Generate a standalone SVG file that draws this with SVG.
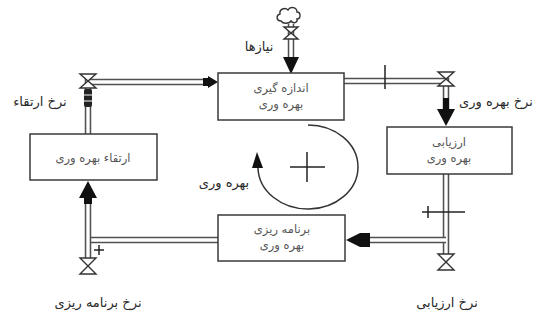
<svg xmlns="http://www.w3.org/2000/svg" width="537" height="320" viewBox="0 0 537 320">
<style>
.box{fill:#fff;stroke:#3a3a3a;stroke-width:1.5}
.po{fill:none;stroke:#505050;stroke-width:6.5}
.pi{fill:none;stroke:#fff;stroke-width:3.4}
.valve{fill:#fff;stroke:#333;stroke-width:1.4}
.ah{fill:#111;stroke:none}
.tick{stroke:#222;stroke-width:1.5;fill:none}
.bt{font-family:"DejaVu Sans",sans-serif;font-size:11.5px;fill:#555;text-anchor:middle}
.lb{font-family:"DejaVu Sans",sans-serif;font-size:13px;fill:#2a2a2a;text-anchor:middle}
</style>
<rect width="537" height="320" fill="#fff"/>
<g id="connectors">
  <path class="po" d="M88,134 L88,82 L205,82"/>
  <path class="pi" d="M88,134 L88,82 L205,82"/>
  <path class="po" d="M344,81 L446,81 L446,110"/>
  <path class="pi" d="M344,81 L446,81 L446,110"/>
  <path class="po" d="M446,174 L446,256"/>
  <path class="pi" d="M446,174 L446,256"/>
  <path class="po" d="M446,240 L364,240"/>
  <path class="pi" d="M446,240 L364,240"/>
  <path class="po" d="M218,240 L88,240"/>
  <path class="pi" d="M218,240 L88,240"/>
  <path class="po" d="M88,258 L88,198"/>
  <path class="pi" d="M88,258 L88,198"/>
  <path class="po" d="M291,24 L291,58"/>
  <path class="pi" d="M291,24 L291,58"/>
  <polygon class="ah" points="203,78 208,78 208,76 218,82 208,88 208,86 203,86"/>
  <polygon class="ah" points="443,98 449,98 449,109 455,109 446,126 437,109 443,109"/>
  <polygon class="ah" points="88,181 97,198 92,198 92,204 84,204 84,198 79,198"/>
  <polygon class="ah" points="291,74 299,57 283,57"/>
  <polygon class="ah" points="346,240 360,233 370,233 370,247 360,247"/>
  <path class="valve" d="M80,74 L96,74 L88,81 Z M88,81 L80,88 L96,88 Z"/>
  <rect x="84" y="89" width="8" height="18" rx="2" fill="#222"/>
  <line x1="84" y1="95" x2="92" y2="95" stroke="#fff" stroke-width="1"/>
  <line x1="84" y1="101" x2="92" y2="101" stroke="#fff" stroke-width="1"/>
  <path class="valve" d="M438,72 L454,72 L446,79 Z M446,79 L438,86 L454,86 Z"/>
  <path class="valve" d="M438,254 L454,254 L446,262 Z M446,262 L438,270 L454,270 Z"/>
  <path class="valve" d="M80,258 L96,258 L88,266 Z M88,266 L80,274 L96,274 Z"/>
  <path class="valve" d="M284,27 L298,27 L291,33 Z M291,33 L284,39 L298,39 Z"/>
  <path fill="#fff" stroke="#333" stroke-width="1.4" d="M281,21 C276,21 276,15 280,14 C279,9 285,7 288,10 C290,6 297,7 297,12 C301,12 301,19 297,19 C298,23 293,24 291,21 C289,24 283,24 281,21 Z"/>
  <line class="tick" x1="385" y1="65" x2="385" y2="89"/>
  <line class="tick" x1="422" y1="212" x2="465" y2="212"/>
  <line class="tick" x1="428" y1="206" x2="428" y2="218"/>
  <line class="tick" x1="94" y1="250" x2="104" y2="250"/>
  <line class="tick" x1="99" y1="245" x2="99" y2="255"/>
  <path fill="none" stroke="#333" stroke-width="1.5" d="M308,125 A50,42 0 1 1 258,168"/>
  <polygon class="ah" points="257,152 263,168 252,168"/>
  <line class="tick" x1="290" y1="167" x2="325" y2="167"/>
  <line class="tick" x1="307" y1="152" x2="307" y2="182"/>
</g>
<g id="node-measure">
  <rect class="box" x="218" y="73" width="126" height="47"/>
  <text class="bt" x="281" y="92">اندازه گیری</text>
  <text class="bt" x="281" y="108">بهره وری</text>
</g>
<g id="node-evaluate">
  <rect class="box" x="387" y="127" width="125" height="47"/>
  <text class="bt" x="449" y="146">ارزیابی</text>
  <text class="bt" x="449" y="162">بهره وری</text>
</g>
<g id="node-improve">
  <rect class="box" x="30" y="134" width="127" height="46"/>
  <text class="bt" x="93" y="162">ارتقاء بهره وری</text>
</g>
<g id="node-plan">
  <rect class="box" x="218" y="215" width="127" height="46"/>
  <text class="bt" x="282" y="233">برنامه ریزی</text>
  <text class="bt" x="282" y="249">بهره وری</text>
</g>
<g id="labels">
  <text class="lb" x="259" y="51">نیازها</text>
  <text class="lb" x="40" y="106">نرخ ارتقاء</text>
  <text class="lb" x="496" y="106">نرخ بهره وری</text>
  <text class="lb" x="224" y="187">بهره وری</text>
  <text class="lb" x="98" y="307">نرخ برنامه ریزی</text>
  <text class="lb" x="447" y="307">نرخ ارزیابی</text>
</g>
</svg>
